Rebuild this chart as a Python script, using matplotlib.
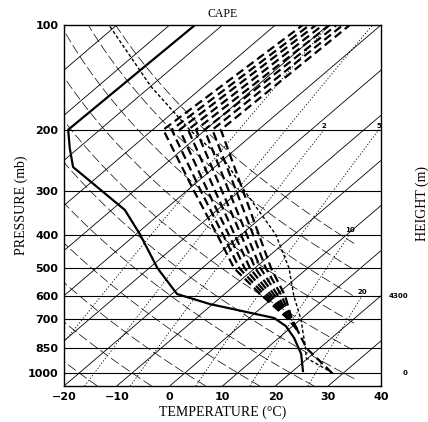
import numpy as np
import matplotlib
matplotlib.use('Agg')
import matplotlib.pyplot as plt
from matplotlib.ticker import NullLocator

# ---------------- data ----------------
p_ticks = [100, 200, 300, 400, 500, 600, 700, 850, 1000]
p_lines = [200, 300, 400, 500, 600, 700, 850, 1000]
t_ticks = [-20, -10, 0, 10, 20, 30, 40]
t_labels = ['\u221220', '\u221210', '0', '10', '20', '30', '40']

# dew point (thick solid)
td_p = [100, 200, 226, 256, 340, 399, 499, 593, 634, 695, 733, 793, 882, 987]
td_T = [-75.2, -76.0, -71.6, -66.8, -47.5, -39.3, -28.5, -19.0, -10.5, 4.7, 8.7, 12.9, 17.8, 21.9]

# lifted parcel (fine dashed)
pc_p = [1000, 905, 850, 700, 600, 500, 400, 300, 250, 200, 150, 100]
pc_T = [28.0, 19.6, 17.4, 10.0, 3.5, -3.5, -13.5, -29.0, -38.5, -53.0, -70.0, -91.5]

# temperature, lower common part
tl_p = [1000, 960, 850, 750]
tl_T = [27.8, 25.3, 17.6, 11.6]

# temperature members above 750 hPa (thick dashed)
tu_p = [750, 700, 600, 500, 400, 300, 200, 100]
tu_T0 = [11.6, 7.6, -2.5, -13.9, -24.6, -38.6, -58.0, -54.8]
tu_T1 = [11.6, 7.7, -1.9, -12.9, -23.5, -37.3, -56.4, -53.5]
tu_T2 = [11.6, 7.8, -1.3, -11.9, -22.4, -36.0, -54.9, -52.3]
tu_T3 = [11.6, 7.9, -0.7, -10.9, -21.3, -34.6, -53.3, -51.0]
tu_T4 = [11.6, 8.0, -0.1, -9.9, -20.1, -33.3, -51.8, -49.7]
tu_T5 = [11.6, 8.1, 0.5, -8.9, -19.0, -32.0, -50.2, -48.4]
tu_T6 = [11.6, 8.2, 1.2, -7.9, -17.8, -30.6, -48.7, -47.2]
tu_T7 = [11.6, 8.3, 1.85, -6.9, -16.7, -29.3, -47.1, -45.9]
tu_members = [tu_T0, tu_T1, tu_T2, tu_T3, tu_T4, tu_T5, tu_T6, tu_T7]

# background families
isotherms = list(range(-120, 41, 10))
theta_c = list(range(-30, 81, 10))
mix_w = [0.4, 1, 2, 5, 10, 20]
mix_top = [100, 100, 200, 200, 400, 600]
mix_lab = ['', '', '2', '5', '10', '20']

height_p = [600, 1000]
height_lab = ['4300', '0']

# ---------------- geometry ----------------
P_BOT = 1090.0
P_TOP = 100.0
SKEW = 80.0 / np.log(P_BOT / P_TOP)
X_DRY_MAX = 35.0


def sx(T, p):
    return np.asarray(T, float) + SKEW * np.log(P_BOT / np.asarray(p, float))


def dewpoint_from_w(w, p):
    e = w * p / (622.0 + w)
    a = np.log(e / 6.112)
    return 243.5 * a / (17.67 - a)


fig = plt.figure(figsize=(4.28, 4.22), dpi=100)
ax = fig.add_axes([64 / 428, 1 - 386 / 422, 317 / 428, 361 / 422])
ax.set_yscale('log')
ax.set_ylim(P_BOT, P_TOP)
ax.set_xlim(-20, 40)

pp = np.geomspace(P_BOT, P_TOP, 300)

# isotherms
for T in isotherms:
    ax.plot(sx([T, T], [P_BOT, P_TOP]), [P_BOT, P_TOP], color='black', lw=0.6, zorder=1)

# dry adiabats
for th in theta_c:
    T = (th + 273.15) * (pp / 1000.0) ** 0.2857 - 273.15
    x = sx(T, pp)
    x = np.where(x <= X_DRY_MAX, x, np.nan)
    ax.plot(x, pp, color='black', lw=0.5, ls=(0, (14, 5)), zorder=1)

# mixing ratio lines
for w, ptop, lab in zip(mix_w, mix_top, mix_lab):
    pm = np.geomspace(P_BOT, ptop, 80)
    Td = dewpoint_from_w(w, pm)
    ax.plot(sx(Td, pm), pm, color='black', lw=0.6, ls=(0, (1.5, 2.2)), zorder=1)
    if lab:
        ax.text(sx(Td[-1], ptop), ptop * 0.992, lab, fontsize=5, fontweight='bold',
                ha='center', va='bottom', family='DejaVu Sans', clip_on=True, zorder=3)

# pressure lines
for p in p_lines:
    ax.axhline(p, color='black', lw=0.8, zorder=1)

# parcel
ax.plot(sx(pc_T, pc_p), pc_p, color='black', lw=1.0, ls=(0, (2.4, 1.6)), zorder=4)

# temperature members
for m in tu_members:
    ax.plot(sx(m, tu_p), tu_p, color='black', lw=1.6, ls=(0, (3.8, 2.0)), zorder=4)
ax.plot(sx(tl_T, tl_p), tl_p, color='black', lw=1.6, ls=(0, (3.8, 2.0)), zorder=4)

# dewpoint
ax.plot(sx(td_T, td_p), td_p, color='black', lw=1.6, zorder=5)

# axes styling
ax.set_yticks(p_ticks)
ax.set_yticklabels([str(p) for p in p_ticks])
ax.yaxis.set_minor_locator(NullLocator())
ax.set_xticks(t_ticks)
ax.set_xticklabels(t_labels)
ax.tick_params(length=0, labelsize=8, pad=4)
for lbl in ax.get_xticklabels() + ax.get_yticklabels():
    lbl.set_fontweight('bold')
    lbl.set_family('DejaVu Sans')
for s in ax.spines.values():
    s.set_linewidth(1.0)

ax.set_xlabel('TEMPERATURE (\u00b0C)', family='Liberation Serif', fontsize=10, labelpad=3)
ax.set_ylabel('PRESSURE (mb)', family='Liberation Serif', fontsize=10, labelpad=0)
ax.set_title('CAPE', family='Liberation Serif', fontsize=8.5, pad=5.5)

for p, lab in zip(height_p, height_lab):
    ax.text(1.085, p, lab, transform=ax.get_yaxis_transform(), fontsize=5,
            fontweight='bold', ha='right', va='center', family='DejaVu Sans')
fig.text(0.987, 0.517, 'HEIGHT (m)', rotation=90, family='Liberation Serif',
         fontsize=10, ha='center', va='center')

fig.savefig('out.png', dpi=100)
